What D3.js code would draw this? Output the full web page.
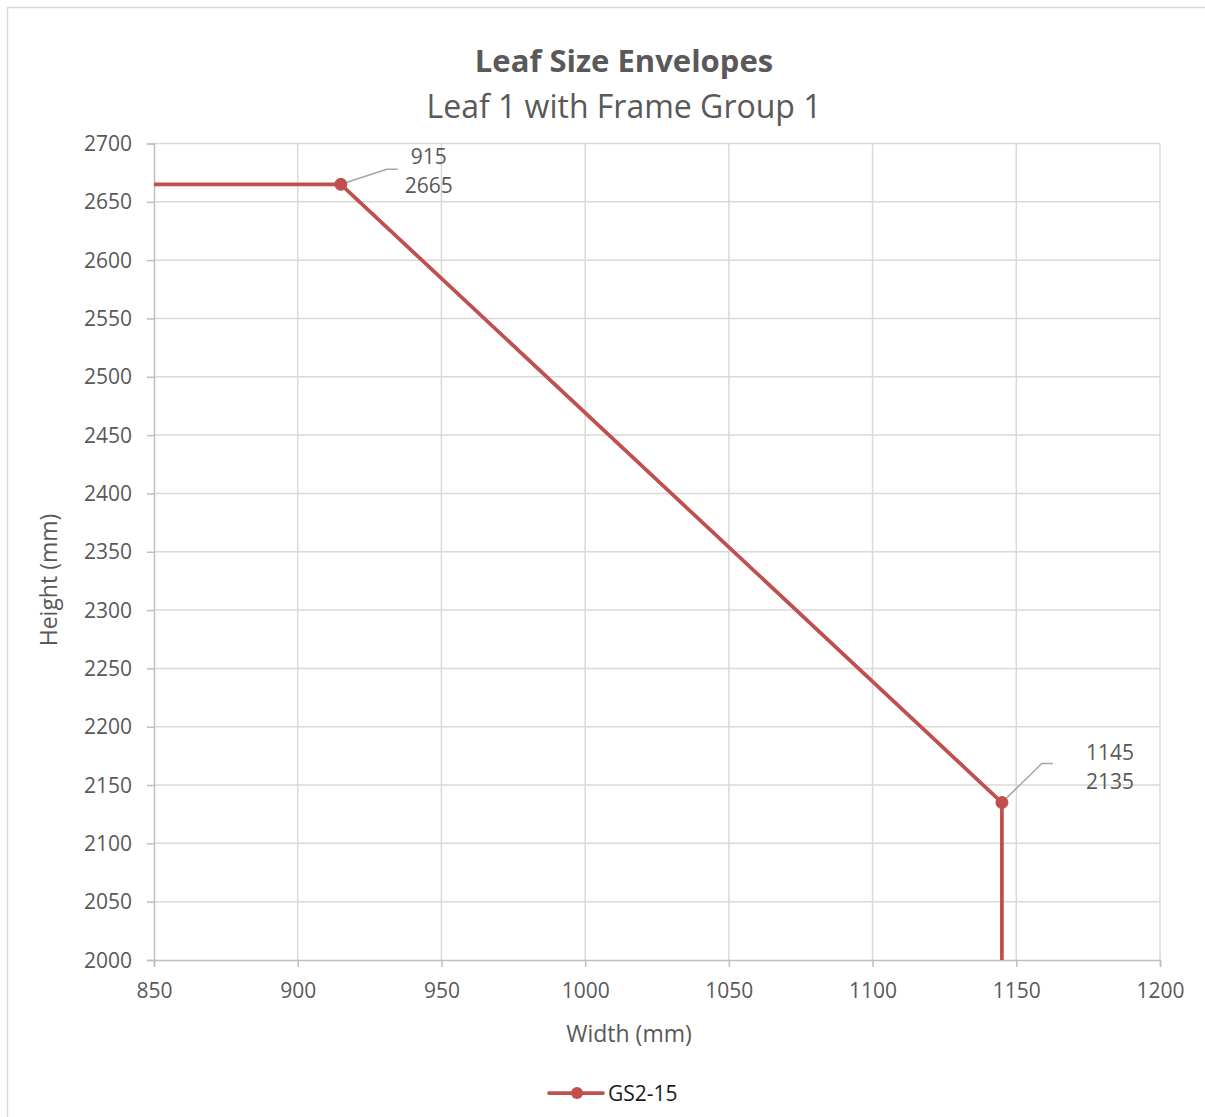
<!DOCTYPE html>
<html>
<head>
<meta charset="utf-8">
<script src="https://cdn.jsdelivr.net/npm/d3@7"></script>
<style>
  html, body { margin: 0; padding: 0; background: #fff; }
  svg { display: block; font-family: "Open Sans", "Noto Sans", sans-serif; }
</style>
</head>
<body>
<svg id="chart" width="1205" height="1117"></svg>
<script>
// Envelope outline for leaf 1 (width vs height, mm)
const seriesName = "GS2-15";
const widths  = [850, 915, 1145, 1145];
const heights = [2665, 2665, 2135, 2000];
// Which vertices carry a marker and a value label
const marked  = [false, true, true, false];

const xTicks = [850, 900, 950, 1000, 1050, 1100, 1150, 1200];
const yTicks = [2000, 2050, 2100, 2150, 2200, 2250, 2300, 2350, 2400, 2450, 2500, 2550, 2600, 2650, 2700];

const titleText = "Leaf Size Envelopes";
const subtitleText = "Leaf 1 with Frame Group 1";
const xTitle = "Width (mm)";
const yTitle = "Height (mm)";

const textColor = "#595959";
const gridColor = "#d9d9d9";
const axisColor = "#bfbfbf";
const lineColor = "#c0504d";

const svg = d3.select("#chart");

// chart frame
svg.append("rect")
  .attr("x", 7.5).attr("y", 7.5)
  .attr("width", 1205).attr("height", 1120)
  .attr("fill", "#fff").attr("stroke", "#d9d9d9").attr("stroke-width", 1.5);

const plot = { left: 154, right: 1160, top: 143.5, bottom: 960 };

const x = d3.scaleLinear().domain([850, 1200]).range([plot.left, plot.right]);
const y = d3.scaleLinear().domain([2000, 2700]).range([plot.bottom, plot.top]);

// gridlines
const grid = svg.append("g");
grid.selectAll(".vg").data(xTicks.slice(1)).join("line")
  .attr("x1", d => x(d)).attr("x2", d => x(d))
  .attr("y1", plot.top).attr("y2", plot.bottom)
  .attr("stroke", gridColor).attr("stroke-width", 1.5);
grid.selectAll(".hg").data(yTicks.slice(1)).join("line")
  .attr("x1", plot.left).attr("x2", plot.right)
  .attr("y1", d => y(d)).attr("y2", d => y(d))
  .attr("stroke", gridColor).attr("stroke-width", 1.5);

// axes
const xAxis = d3.axisBottom(x).tickValues(xTicks).tickSize(7).tickPadding(16).tickFormat(d3.format("d"));
const yAxis = d3.axisLeft(y).tickValues(yTicks).tickSize(7).tickPadding(15).tickFormat(d3.format("d"));

const gx = svg.append("g").attr("transform", `translate(0,${plot.bottom})`).call(xAxis);
const gy = svg.append("g").attr("transform", `translate(${plot.left},0)`).call(yAxis);
[gx, gy].forEach(g => {
  g.select(".domain").attr("stroke", axisColor).attr("stroke-width", 1.5);
  g.selectAll(".tick line").attr("stroke", axisColor).attr("stroke-width", 1.5);
  g.selectAll(".tick text").attr("fill", textColor)
    .style("font-size", "21px").style("font-family", "'Open Sans', sans-serif");
});
gy.selectAll(".tick text").attr("dy", "0.34em");

// titles
svg.append("text").attr("x", 624).attr("y", 72).attr("text-anchor", "middle")
  .attr("fill", textColor).style("font-size", "31px").style("font-weight", "bold")
  .text(titleText);
svg.append("text").attr("x", 624).attr("y", 118).attr("text-anchor", "middle")
  .attr("fill", textColor).style("font-size", "32px")
  .text(subtitleText);

svg.append("text").attr("x", 629).attr("y", 1042).attr("text-anchor", "middle")
  .attr("fill", textColor).style("font-size", "23px").text(xTitle);
svg.append("text").attr("transform", `translate(57,580) rotate(-90)`)
  .attr("text-anchor", "middle").attr("fill", textColor).style("font-size", "23px").text(yTitle);

// series
const pts = widths.map((w, i) => ({ w, h: heights[i], m: marked[i] }));
svg.append("path").datum(pts)
  .attr("d", d3.line().x(d => x(d.w)).y(d => y(d.h)))
  .attr("fill", "none").attr("stroke", lineColor).attr("stroke-width", 3.75)
  .attr("stroke-linejoin", "round");

// data label leaders and labels
const labelOffsets = [null, { dx: 46, dy: -15, lx: 88, ly: -20 }, { dx: 40, dy: -39, lx: 108, ly: -43 }, null];
pts.forEach((p, i) => {
  if (!p.m) return;
  const o = labelOffsets[i];
  const px = x(p.w), py = y(p.h);
  svg.append("polyline")
    .attr("points", `${px},${py} ${px + o.dx},${py + o.dy} ${px + o.dx + 11},${py + o.dy}`)
    .attr("fill", "none").attr("stroke", "#a6a6a6").attr("stroke-width", 1.5);
  const t = svg.append("text").attr("text-anchor", "middle").attr("fill", textColor)
    .style("font-size", "21px");
  t.append("tspan").attr("x", px + o.lx).attr("y", py + o.ly).text(p.w);
  t.append("tspan").attr("x", px + o.lx).attr("y", py + o.ly + 29).text(p.h);
});

svg.selectAll(".marker").data(pts.filter(p => p.m)).join("circle")
  .attr("cx", d => x(d.w)).attr("cy", d => y(d.h)).attr("r", 6)
  .attr("fill", lineColor).attr("stroke", lineColor);

// legend
const lg = svg.append("g");
lg.append("line").attr("x1", 549).attr("x2", 603).attr("y1", 1093).attr("y2", 1093)
  .attr("stroke", lineColor).attr("stroke-width", 3.75).attr("stroke-linecap", "round");
lg.append("circle").attr("cx", 577).attr("cy", 1093).attr("r", 6).attr("fill", lineColor);
lg.append("text").attr("x", 608).attr("y", 1101).attr("fill", "#1a1a1a")
  .style("font-size", "21px").text(seriesName);
</script>
</body>
</html>
